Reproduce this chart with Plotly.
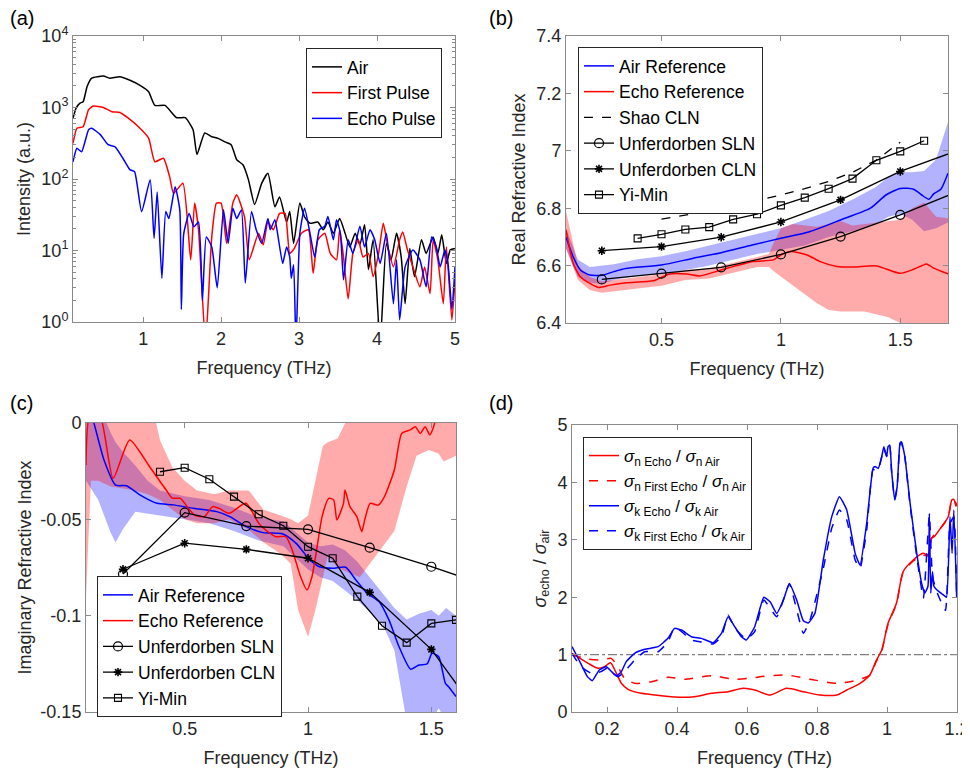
import plotly.graph_objects as go

# ---------------- Panel (a): spectra ----------------
AIR_F = [0.10,0.14,0.19,0.23,0.28,0.34,0.49,0.57,0.70,0.83,0.96,1.07,1.15,1.28,1.43,1.54,1.64,1.69,1.79,1.88,1.96,2.05,2.13,2.20,2.28,2.35,2.43,2.52,2.60,2.69,2.75,2.84,2.88,2.93,3.01,3.07,3.14,3.24,3.31,3.37,3.44,3.52,3.59,3.65,3.72,3.78,3.84,3.89,3.95,4.04,4.12,4.18,4.25,4.31,4.36,4.42,4.48,4.57,4.63,4.72,4.78,4.83,4.89,4.94,5.00]
AIR_I = [710,980,1150,1200,1950,2570,2750,2570,2690,2400,2040,1660,1070,1070,720,720,490,220,440,390,370,330,300,186,158,98,44,87,120,41,56,25,35,12.6,46,29.5,24,25,19.5,25,17.4,28,17.4,11.2,17.4,12,23,5.4,14.1,0.5,12.6,7.4,17.4,8.1,1.8,10.7,4.3,14.1,9.1,15.5,9.1,16.6,6.6,10.2,10.7]

FIRST_F = [0.10,0.15,0.23,0.30,0.36,0.49,0.60,0.70,0.81,0.94,1.07,1.15,1.26,1.34,1.39,1.51,1.61,1.66,1.71,1.80,1.88,1.94,2.00,2.07,2.15,2.20,2.30,2.36,2.48,2.54,2.60,2.67,2.75,2.82,2.88,2.94,3.03,3.12,3.18,3.24,3.33,3.40,3.48,3.52,3.57,3.63,3.69,3.76,3.82,3.89,3.95,4.02,4.08,4.14,4.21,4.29,4.33,4.39,4.46,4.55,4.61,4.68,4.72,4.78,4.85,4.89,4.96,5.00]
FIRST_I = [316,513,537,933,1047,1000,871,851,708,537,372,174,195,107,63,87,7.4,46,19.5,0.5,15.5,46,46,12.6,46,60,29.5,7.4,17.4,12,25,19.5,33,33,9.1,10.7,17.4,19.5,4.8,14.1,17.4,9.1,7.4,19.5,8.1,2.1,9.1,14.1,8.1,9.1,4.3,9.1,24,11.2,5.9,14.1,18.2,10.2,5.9,3.1,5.9,2.5,14.1,7.4,1.8,11.2,1.07,3.9]

ECHO_F = [0.10,0.15,0.21,0.30,0.34,0.45,0.55,0.64,0.74,0.83,0.89,0.98,1.09,1.14,1.18,1.24,1.29,1.33,1.41,1.47,1.49,1.52,1.59,1.65,1.71,1.76,1.81,1.88,1.95,2.03,2.09,2.15,2.20,2.26,2.31,2.39,2.45,2.52,2.60,2.63,2.69,2.73,2.79,2.84,2.88,2.90,2.93,2.96,3.01,3.07,3.14,3.20,3.26,3.33,3.37,3.44,3.48,3.53,3.57,3.63,3.69,3.78,3.84,3.91,3.97,4.04,4.12,4.21,4.25,4.29,4.36,4.46,4.55,4.63,4.70,4.76,4.81,4.87,4.91,4.96,5.00]
ECHO_I = [174,269,240,490,513,417,302,282,195,135,126,35,98,14.8,66,4.1,35,28,78,37,1.5,17,33,21.4,25,2.0,15.5,11.2,3.0,37,12.6,39,28,37,3.5,35,19.5,12.6,28,19.5,27,15.8,6.6,11.2,8.1,4.1,6.3,0.5,17.4,39,17.4,8.1,19.5,21.9,30,14.1,27,17.4,3.9,14.1,9.1,21.9,11.2,19.5,14.1,6.6,17.4,1.8,7.4,1.07,5.9,10.2,7.4,3.1,15.5,11.2,5.9,10.2,6.6,1.5,5.9]

A_YTICKS = [1, 10, 100, 1000, 10000]
A_YTICKTEXT = ["10<sup>0</sup>", "10<sup>1</sup>", "10<sup>2</sup>", "10<sup>3</sup>", "10<sup>4</sup>"]
A_XTICKS = [1, 2, 3, 4, 5]

# ---------------- Panel (b): real refractive index ----------------
YM_B_F = [0.4,0.5,0.6,0.7,0.8,0.9,1.0,1.1,1.2,1.3,1.4,1.5,1.6]
YM_B_N = [6.695,6.709,6.726,6.734,6.761,6.779,6.81,6.837,6.868,6.903,6.967,6.998,7.035]
UNF_F = [0.25,0.5,0.75,1.0,1.25,1.5,1.75]
CLN_B_N = [6.652,6.666,6.699,6.752,6.829,6.928,7.004]
SLN_B_N = [6.552,6.572,6.594,6.639,6.701,6.777,6.861]
SHAO_F = [0.5,0.6,0.7,0.8,0.9,1.0,1.1,1.2,1.3,1.4,1.5]
SHAO_N = [6.762,6.775,6.79,6.807,6.826,6.846,6.868,6.893,6.925,6.968,7.03]

AIR_B_F = [0.10,0.13,0.16,0.20,0.25,0.30,0.35,0.50,0.63,0.75,0.88,1.00,1.12,1.25,1.375,1.44,1.50,1.556,1.59,1.62,1.64,1.67,1.70]
AIR_B_N = [6.699,6.631,6.585,6.567,6.566,6.579,6.59,6.602,6.625,6.645,6.672,6.695,6.718,6.759,6.80,6.846,6.869,6.866,6.846,6.831,6.85,6.866,6.922]
AIR_B_BAND_F = [0.10,0.15,0.20,0.25,0.30,0.40,0.50,0.60,0.70,0.80,0.90,1.00,1.10,1.20,1.30,1.40,1.45,1.50,1.55,1.60,1.65,1.70]
AIR_B_UP = [6.73,6.62,6.595,6.60,6.605,6.622,6.633,6.65,6.67,6.69,6.71,6.73,6.76,6.79,6.83,6.875,6.91,6.925,6.925,6.93,6.97,7.10]
AIR_B_LO = [6.66,6.56,6.54,6.535,6.55,6.565,6.57,6.585,6.60,6.62,6.64,6.655,6.67,6.70,6.72,6.745,6.77,6.78,6.76,6.72,6.73,6.75]

ECHO_B_F = [0.10,0.13,0.16,0.20,0.236,0.285,0.354,0.466,0.535,0.605,0.66,0.75,0.884,0.969,1.00,1.04,1.11,1.165,1.235,1.305,1.40,1.50,1.556,1.61,1.64,1.70]
ECHO_B_N = [6.724,6.608,6.561,6.538,6.524,6.532,6.54,6.547,6.571,6.571,6.564,6.585,6.614,6.62,6.637,6.649,6.637,6.614,6.597,6.595,6.599,6.573,6.587,6.606,6.591,6.571]
ECHO_B_BAND_F = [0.10,0.15,0.20,0.25,0.30,0.40,0.50,0.60,0.70,0.80,0.90,0.95,0.97,1.00,1.05,1.10,1.15,1.20,1.25,1.30,1.35,1.40,1.45,1.50,1.55,1.60,1.65,1.70]
ECHO_B_UP = [6.79,6.60,6.56,6.545,6.55,6.56,6.57,6.585,6.59,6.61,6.63,6.64,6.68,6.73,6.745,6.74,6.735,6.745,6.755,6.74,6.745,6.75,6.755,6.76,6.80,6.82,6.77,6.765]
ECHO_B_LO = [6.66,6.55,6.515,6.505,6.51,6.52,6.53,6.55,6.555,6.575,6.595,6.595,6.58,6.56,6.53,6.50,6.47,6.445,6.44,6.44,6.44,6.43,6.42,6.40,6.39,6.38,6.37,6.36]

B_YTICKS = [6.4, 6.6, 6.8, 7.0, 7.2, 7.4]
B_YTICKTEXT = ["6.4", "6.6", "6.8", "7", "7.2", "7.4"]
B_XTICKS = [0.5, 1.0, 1.5]
B_XTICKTEXT = ["0.5", "1", "1.5"]

# ---------------- Panel (c): imaginary refractive index ----------------
YM_C_F = [0.4,0.5,0.6,0.7,0.8,0.9,1.0,1.1,1.2,1.3,1.4,1.5,1.6]
YM_C_K = [-0.0253,-0.0232,-0.0292,-0.0382,-0.0474,-0.0533,-0.0642,-0.0702,-0.0901,-0.1052,-0.114,-0.104,-0.1022]
SLN_C_K = [-0.0784,-0.0465,-0.0535,-0.0552,-0.0647,-0.0746,-0.0854]
CLN_C_K = [-0.0759,-0.0624,-0.0656,-0.0702,-0.0879,-0.1175,-0.1615]

AIR_C_F = [0.10,0.132,0.173,0.22,0.264,0.32,0.388,0.455,0.536,0.63,0.683,0.75,0.818,0.898,0.952,1.006,1.046,1.10,1.153,1.194,1.24,1.288,1.328,1.369,1.416,1.45,1.483,1.503,1.53,1.557,1.57,1.60]
AIR_C_K = [0.012,0.0,-0.0192,-0.0322,-0.0326,-0.0374,-0.0417,-0.0425,-0.0443,-0.046,-0.0486,-0.0538,-0.0569,-0.0576,-0.0625,-0.0708,-0.0746,-0.0754,-0.0749,-0.0815,-0.0884,-0.0927,-0.1022,-0.1161,-0.1278,-0.1256,-0.125,-0.1195,-0.1213,-0.1351,-0.1369,-0.142]
AIR_C_BAND_F = [0.10,0.15,0.20,0.22,0.25,0.30,0.35,0.40,0.50,0.60,0.70,0.80,0.90,1.00,1.05,1.10,1.15,1.20,1.25,1.30,1.35,1.40,1.45,1.50,1.53,1.56,1.60]
AIR_C_UP = [0.02,0.01,-0.005,-0.01,-0.015,-0.022,-0.03,-0.035,-0.038,-0.04,-0.044,-0.049,-0.051,-0.062,-0.064,-0.063,-0.066,-0.072,-0.08,-0.088,-0.096,-0.102,-0.099,-0.097,-0.100,-0.096,-0.100]
AIR_C_LO = [-0.03,-0.04,-0.057,-0.062,-0.055,-0.046,-0.047,-0.048,-0.05,-0.052,-0.056,-0.061,-0.064,-0.076,-0.08,-0.082,-0.087,-0.092,-0.098,-0.104,-0.118,-0.155,-0.155,-0.155,-0.148,-0.155,-0.155]

ECHO_C_F = [0.10,0.116,0.156,0.21,0.277,0.358,0.425,0.45,0.483,0.50,0.54,0.58,0.613,0.64,0.68,0.748,0.80,0.827,0.869,0.91,0.936,0.97,0.996,1.016,1.037,1.057,1.084,1.104,1.117,1.144,1.15,1.17,1.198,1.218,1.23,1.252,1.285,1.31,1.35,1.38,1.415,1.435,1.455,1.475,1.494,1.507,1.514,1.60]
ECHO_C_K = [-0.0218,0.004,0.004,-0.0287,-0.0088,-0.0227,-0.0348,-0.039,-0.0391,-0.0417,-0.0478,-0.0486,-0.0434,-0.0443,-0.0469,-0.0417,-0.052,-0.0554,-0.059,-0.059,-0.0659,-0.0798,-0.0867,-0.0798,-0.0642,-0.0486,-0.0391,-0.0399,-0.0503,-0.0417,-0.0348,-0.0434,-0.0486,-0.0564,-0.0503,-0.0417,-0.0426,-0.0382,-0.0244,-0.0054,-0.0036,-0.002,-0.0054,-0.002,-0.0062,-0.0029,0.0,0.012]
ECHO_C_BAND_F = [0.10,0.12,0.15,0.20,0.25,0.30,0.35,0.40,0.45,0.50,0.55,0.62,0.68,0.76,0.82,0.89,0.93,0.96,1.00,1.03,1.06,1.08,1.12,1.17,1.21,1.28,1.35,1.40,1.44,1.49,1.53,1.55,1.60]
ECHO_C_UP = [0.02,0.02,0.02,0.02,0.02,0.02,0.02,-0.009,-0.023,-0.030,-0.035,-0.037,-0.035,-0.035,-0.045,-0.048,-0.050,-0.052,-0.048,-0.030,-0.012,-0.010,-0.008,0.005,0.01,0.01,0.01,0.01,0.01,0.01,0.01,0.01,0.01]
ECHO_C_LO = [-0.09,-0.03,-0.03,-0.033,-0.034,-0.035,-0.037,-0.040,-0.045,-0.050,-0.052,-0.052,-0.050,-0.0555,-0.062,-0.068,-0.073,-0.097,-0.111,-0.097,-0.080,-0.069,-0.075,-0.078,-0.080,-0.068,-0.056,-0.033,-0.017,-0.014,-0.016,-0.020,-0.017]

C_YTICKS = [-0.15, -0.1, -0.05, 0]
C_YTICKTEXT = ["-0.15", "-0.1", "-0.05", "0"]
C_XTICKS = [0.5, 1.0, 1.5]
C_XTICKTEXT = ["0.5", "1", "1.5"]

# ---------------- Panel (d): sigma ratios ----------------
SN_ECHO_F = [0.100,0.146,0.174,0.193,0.210,0.227,0.241,0.260,0.298,0.355,0.413,0.450,0.498,0.546,0.589,0.622,0.666,0.713,0.761,0.808,0.856,0.885,0.923,0.951,0.970,0.985,1.003,1.027,1.046,1.075,1.103,1.118,1.127,1.135,1.156,1.175,1.185,1.191,1.197,1.200]
SN_ECHO_V = [1.02,0.848,0.761,0.79,0.859,0.674,0.50,0.395,0.325,0.285,0.256,0.267,0.325,0.354,0.412,0.383,0.296,0.412,0.354,0.296,0.296,0.383,0.50,0.645,0.906,1.08,1.545,1.893,2.444,2.648,2.764,2.735,3.026,3.055,3.229,3.403,3.693,3.705,3.59,3.60]
SN_FIRST_F = [0.100,0.146,0.183,0.212,0.231,0.250,0.279,0.327,0.374,0.422,0.498,0.565,0.622,0.637,0.713,0.780,0.856,0.894,0.923,0.951,0.970,0.985,1.003,1.027,1.046,1.075,1.103,1.118,1.127,1.156,1.175,1.185,1.191,1.200]
SN_FIRST_V = [1.0,0.92,0.906,0.935,0.79,0.587,0.50,0.529,0.604,0.57,0.633,0.57,0.598,0.616,0.645,0.57,0.50,0.529,0.57,0.645,0.89,1.07,1.53,1.88,2.43,2.63,2.73,2.72,3.02,3.22,3.40,3.69,3.70,3.60]
SK_ECHO_F = [0.100,0.120,0.144,0.158,0.178,0.198,0.213,0.227,0.241,0.255,0.279,0.308,0.346,0.374,0.393,0.413,0.441,0.470,0.503,0.527,0.546,0.565,0.584,0.598,0.622,0.648,0.666,0.685,0.704,0.721,0.742,0.761,0.775,0.794,0.818,0.842,0.864,0.885,0.909,0.923,0.942,0.960,0.966,0.975,0.985,0.991,0.999,1.003,1.008,1.013,1.022,1.029,1.037,1.041,1.051,1.066,1.085,1.099,1.108,1.117,1.121,1.125,1.130,1.134,1.142,1.161,1.170,1.180,1.186,1.191,1.199]
SK_ECHO_V = [1.138,0.906,0.616,0.546,0.732,0.79,0.703,0.627,0.703,0.877,1.022,1.092,1.138,1.283,1.457,1.428,1.312,1.283,1.208,1.37,1.66,1.486,1.312,1.254,1.486,2.0,1.92,1.718,1.95,2.24,1.95,1.59,1.55,1.718,2.648,3.4,3.75,3.519,2.764,2.56,3.287,4.245,4.275,4.245,4.45,4.622,4.45,4.622,4.65,4.216,3.693,3.925,4.68,4.71,4.45,3.635,2.764,2.24,2.07,2.19,3.46,2.07,2.444,2.19,2.13,2.04,2.0,3.4,2.764,3.519,2.0]
SK_FIRST_F = [0.100,0.125,0.155,0.183,0.200,0.231,0.246,0.279,0.308,0.346,0.374,0.393,0.413,0.441,0.470,0.503,0.527,0.546,0.565,0.598,0.622,0.648,0.685,0.721,0.761,0.780,0.818,0.842,0.864,0.885,0.909,0.923,0.942,0.960,0.975,0.991,0.999,1.003,1.008,1.013,1.022,1.029,1.037,1.041,1.051,1.066,1.085,1.104,1.121,1.130,1.142,1.167,1.180,1.191,1.199]
SK_FIRST_V = [1.02,0.79,0.674,0.703,0.761,0.616,0.674,0.906,1.05,1.05,1.22,1.475,1.40,1.254,1.22,1.185,1.31,1.69,1.46,1.27,1.40,1.95,1.66,2.23,1.37,1.60,2.50,3.20,3.52,3.345,2.648,2.50,3.17,4.22,4.22,4.59,4.45,4.60,4.63,4.20,3.70,3.92,4.66,4.70,4.44,3.60,2.706,1.98,3.43,2.36,2.10,1.77,3.28,3.40,2.0]
REF_F = [0.1, 1.2]
REF_V = [1, 1]

D_XTICKS = [0.2, 0.4, 0.6, 0.8, 1.0, 1.2]
D_XTICKTEXT = ["0.2", "0.4", "0.6", "0.8", "1", "1.2"]
D_YTICKS = [0, 1, 2, 3, 4, 5]

# ---------------- figure ----------------
# The page body has an 8px margin, so the figure is sized/positioned to compensate.
OFF = 8
W, H = 970 - OFF, 771 - OFF
FONT = "Liberation Sans, Arial, sans-serif"
BLACK, RED, BLUE = "#000000", "#ff0000", "#0000ff"
AXC = "#8a8a8a"
TXT = "#262626"
LW = 1.5

fig = go.Figure()


def band(xs, up, lo, color, xa, ya):
    fig.add_trace(go.Scatter(x=list(xs) + list(xs)[::-1], y=list(up) + list(lo)[::-1],
                             fill="toself", fillcolor=color, line=dict(width=0),
                             mode="lines", showlegend=False, hoverinfo="skip",
                             xaxis=xa, yaxis=ya))


def line(xs, ys, name, color, xa, ya, legend, dash="solid", show=True, shape="spline", mode="lines",
         marker=None, smoothing=0.6, width=LW):
    kw = dict(x=xs, y=ys, name=name, mode=mode, xaxis=xa, yaxis=ya, legend=legend,
              showlegend=show,
              line=dict(color=color, width=width, dash=dash, shape=shape,
                        smoothing=smoothing if shape == "spline" else None))
    if marker is not None:
        kw["marker"] = marker
    fig.add_trace(go.Scatter(**kw))


# (a)
line(AIR_F, AIR_I, "Air", BLACK, "x", "y", "legend", smoothing=0.5)
line(FIRST_F, FIRST_I, "First Pulse", RED, "x", "y", "legend", smoothing=0.5)
line(ECHO_F, ECHO_I, "Echo Pulse", BLUE, "x", "y", "legend", smoothing=0.5)

# (b)
band(AIR_B_BAND_F, AIR_B_UP, AIR_B_LO, "rgba(0,0,255,0.30)", "x2", "y2")
band(ECHO_B_BAND_F, ECHO_B_UP, ECHO_B_LO, "rgba(255,0,0,0.33)", "x2", "y2")
line(AIR_B_F, AIR_B_N, "Air Reference", BLUE, "x2", "y2", "legend2")
line(ECHO_B_F, ECHO_B_N, "Echo Reference", RED, "x2", "y2", "legend2")
line(SHAO_F, SHAO_N, "Shao CLN", BLACK, "x2", "y2", "legend2", dash="dash", shape="linear", width=1.3)
mk_circle = dict(symbol="circle-open", size=9, color=BLACK, line=dict(width=1.2, color=BLACK))
mk_star = dict(symbol="asterisk-open", size=7, color=BLACK, line=dict(width=1.6, color=BLACK))
mk_square = dict(symbol="square-open", size=7, color=BLACK, line=dict(width=1.1, color=BLACK))
line(UNF_F, SLN_B_N, "Unferdorben SLN", BLACK, "x2", "y2", "legend2", shape="linear", mode="lines+markers", marker=mk_circle, width=1.3)
line(UNF_F, CLN_B_N, "Unferdorben CLN", BLACK, "x2", "y2", "legend2", shape="linear", mode="lines+markers", marker=mk_star, width=1.3)
line(YM_B_F, YM_B_N, "Yi-Min", BLACK, "x2", "y2", "legend2", shape="linear", mode="lines+markers", marker=mk_square, width=1.3)

# (c)
band(AIR_C_BAND_F, AIR_C_UP, AIR_C_LO, "rgba(0,0,255,0.30)", "x3", "y3")
band(ECHO_C_BAND_F, ECHO_C_UP, ECHO_C_LO, "rgba(255,0,0,0.33)", "x3", "y3")
line(AIR_C_F, AIR_C_K, "Air Reference", BLUE, "x3", "y3", "legend3")
line(ECHO_C_F, ECHO_C_K, "Echo Reference", RED, "x3", "y3", "legend3")
line(UNF_F, SLN_C_K, "Unferdorben SLN", BLACK, "x3", "y3", "legend3", shape="linear", mode="lines+markers", marker=mk_circle, width=1.3)
line(UNF_F, CLN_C_K, "Unferdorben CLN", BLACK, "x3", "y3", "legend3", shape="linear", mode="lines+markers", marker=mk_star, width=1.3)
line(YM_C_F, YM_C_K, "Yi-Min", BLACK, "x3", "y3", "legend3", shape="linear", mode="lines+markers", marker=mk_square, width=1.3)

# (d)
line(REF_F, REF_V, "ref", "#7f7f7f", "x4", "y4", "legend4", dash="dashdot", show=False, shape="linear", width=1.1)
line(SN_ECHO_F, SN_ECHO_V, "<i>σ</i><sub>n Echo</sub> / <i>σ</i><sub>n Air</sub>", RED, "x4", "y4", "legend4")
line(SN_FIRST_F, SN_FIRST_V, "<i>σ</i><sub>n First Echo</sub> / <i>σ</i><sub>n Air</sub>", RED, "x4", "y4", "legend4", dash="dash")
line(SK_ECHO_F, SK_ECHO_V, "<i>σ</i><sub>k Echo</sub> / <i>σ</i><sub>k Air</sub>", BLUE, "x4", "y4", "legend4", smoothing=0.4)
line(SK_FIRST_F, SK_FIRST_V, "<i>σ</i><sub>k First Echo</sub> / <i>σ</i><sub>k Air</sub>", BLUE, "x4", "y4", "legend4", dash="dash", smoothing=0.4)


def px_dom(a, b):
    return [(a - OFF) / W, (b - OFF) / W]


def py_dom(top, bottom):
    return [1 - (bottom - OFF) / H, 1 - (top - OFF) / H]


def px(x):
    return (x - OFF) / W


def py(y):
    return 1 - (y - OFF) / H


common = dict(showline=True, linecolor=AXC, linewidth=1, mirror="ticks", ticks="inside",
              ticklen=5, tickcolor=AXC, tickwidth=1, showgrid=False, zeroline=False,
              automargin=False,
              tickfont=dict(size=18, color=TXT, family=FONT),
              title_font=dict(size=18, color=TXT, family=FONT))

minor_vals = [m * 10 ** e for e in range(4) for m in range(2, 10)]

fig.update_layout(
    width=W, height=H, margin=dict(l=0, r=0, t=0, b=0, pad=0), autosize=False,
    paper_bgcolor="white", plot_bgcolor="white",
    font=dict(family=FONT, size=18, color=TXT),
    xaxis=dict(domain=px_dom(73, 455), range=[0.1, 5], tickvals=A_XTICKS, anchor="y",
               title=dict(text="Frequency (THz)", standoff=13), **common),
    yaxis=dict(domain=py_dom(36, 322), type="log", range=[0, 4], tickvals=A_YTICKS,
               ticktext=A_YTICKTEXT, anchor="x",
               minor=dict(tickmode="array", tickvals=minor_vals, ticks="inside", ticklen=3, tickcolor=AXC),
               title=dict(text="Intensity (a.u.)", standoff=6), **common),
    xaxis2=dict(domain=px_dom(566, 948), range=[0.1, 1.7], tickvals=B_XTICKS, ticktext=B_XTICKTEXT,
                anchor="y2", title=dict(text="Frequency (THz)", standoff=13), **common),
    yaxis2=dict(domain=py_dom(36, 323), range=[6.4, 7.4], tickvals=B_YTICKS, ticktext=B_YTICKTEXT,
                anchor="x2", title=dict(text="Real Refractive Index", standoff=6), **common),
    xaxis3=dict(domain=px_dom(86, 456), range=[0.1, 1.6], tickvals=C_XTICKS, ticktext=C_XTICKTEXT,
                anchor="y3", title=dict(text="Frequency (THz)", standoff=13), **common),
    yaxis3=dict(domain=py_dom(423, 712), range=[-0.15, 0], tickvals=C_YTICKS, ticktext=C_YTICKTEXT,
                anchor="x3", title=dict(text="Imaginary Refractive Index", standoff=4), **common),
    xaxis4=dict(domain=px_dom(572, 957), range=[0.1, 1.2], tickvals=D_XTICKS, ticktext=D_XTICKTEXT,
                anchor="y4", title=dict(text="Frequency (THz)", standoff=13), **common),
    yaxis4=dict(domain=py_dom(425, 712), range=[0, 5], tickvals=D_YTICKS,
                anchor="x4", title=dict(text="<i>σ</i><sub>echo</sub> / <i>σ</i><sub>air</sub>", standoff=6), **common),
)

leg_common = dict(xanchor="left", yanchor="top", bgcolor="white", bordercolor=TXT, borderwidth=1,
                  font=dict(size=17.5, color="#000000", family=FONT), tracegroupgap=0)
fig.update_layout(
    legend=dict(x=px(306), y=py(48), **leg_common),
    legend2=dict(x=px(578), y=py(47), **leg_common),
    legend3=dict(x=px(97), y=py(576), **leg_common),
    legend4=dict(x=px(583), y=py(437), **{**leg_common, "font": dict(size=17, color="#000000", family=FONT)}),
)

for lab, x, y in [("(a)", 8, 18), ("(b)", 487, 18), ("(c)", 8, 403), ("(d)", 487, 403)]:
    fig.add_annotation(text=lab, x=px(x), y=py(y), xref="paper", yref="paper",
                       xanchor="left", yanchor="middle", showarrow=False,
                       font=dict(size=20, color="#000000", family=FONT))

fig.write_html("out.html")
